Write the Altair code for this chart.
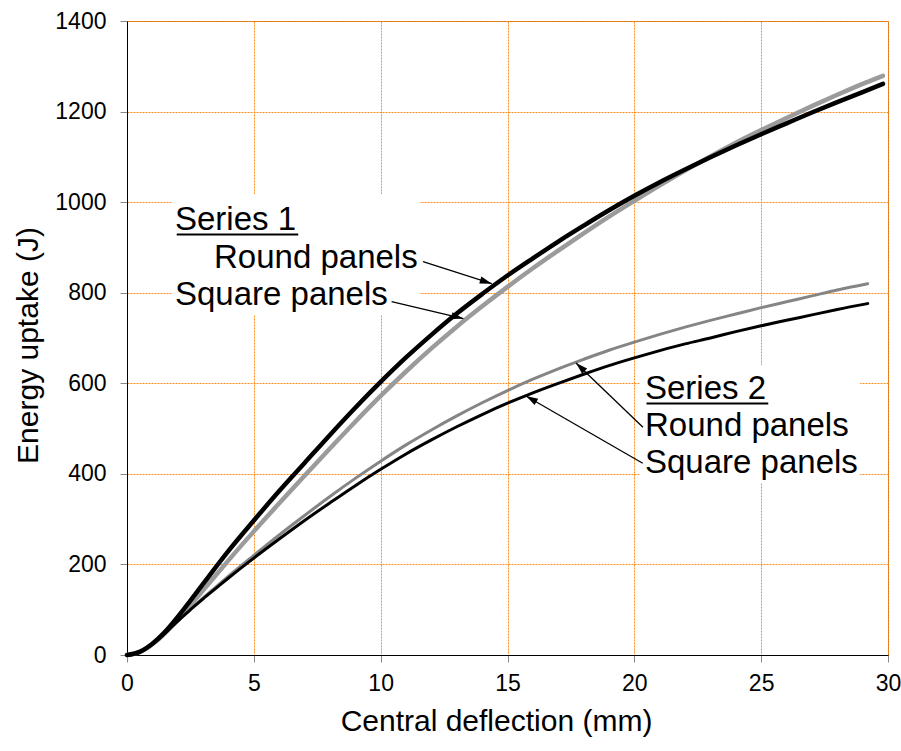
import math
import altair as alt
import pandas as pd

# ---------------- data ----------------
x_ticks = [0, 5, 10, 15, 20, 25, 30]
y_ticks = [0, 200, 400, 600, 800, 1000, 1200, 1400]

x_s1 = [0, 0.5, 1, 1.5, 2, 2.5, 3, 3.5, 4, 5, 6, 7, 8, 9, 10, 11, 12, 13, 14, 15,
        16, 17, 18, 19, 20, 21, 22, 23, 24, 25, 26, 27, 28, 29, 29.8]
e_s1_round = [0, 7, 25, 51, 84, 120, 157, 194, 230, 297, 362, 424, 486, 546, 603, 657, 707, 754, 797, 838,
              876, 913, 948, 982, 1014, 1044, 1072, 1099, 1125, 1150, 1174, 1198, 1221, 1243, 1261]
e_s1_square = [0, 7, 24, 48, 78, 110, 143, 176, 209, 273, 335, 396, 456, 515, 572, 626, 677, 725, 770, 813,
               854, 893, 931, 968, 1003, 1037, 1070, 1101, 1131, 1159, 1186, 1212, 1237, 1261, 1279]

x_s2 = [0, 0.5, 1, 1.5, 2, 2.5, 3, 3.5, 4, 5, 6, 7, 8, 9, 10, 11, 12, 13, 14, 15,
        16, 17, 18, 19, 20, 21, 22, 23, 24, 25, 26, 27, 28, 29.2]
e_s2_round = [0, 7, 24, 48, 75, 101, 126, 150, 174, 220, 265, 308, 350, 390, 428, 464, 497, 528, 557, 584,
              609, 632, 653, 673, 691, 708, 724, 739, 753, 767, 780, 793, 806, 820]
e_s2_square = [0, 7, 24, 48, 75, 100, 124, 147, 170, 214, 256, 297, 336, 374, 410, 444, 475, 504, 531, 556,
               579, 600, 620, 639, 656, 672, 687, 700, 714, 727, 739, 751, 763, 776]

label_text = ["Series 1", "Round panels", "Square panels", "Series 2", "Round panels", "Square panels"]
label_x = [1.89, 3.43, 1.89, 20.42, 20.42, 20.42]
label_e = [938.5, 854, 773, 565, 482.5, 402]

underline_x = [1.96, 20.48]
underline_x2 = [6.75, 25.28]
underline_e = [928.6, 555.4]

arrow_x0 = [11.67, 10.43, 20.34, 20.33]
arrow_e0 = [868.5, 780.2, 503, 423.3]
arrow_x1 = [14.38, 13.26, 17.7, 15.73]
arrow_e1 = [820, 743, 645, 572]

box_x = [1.77, 20.22]
box_x2 = [11.55, 28.9]
box_e = [750.8, 379.8]
box_e2 = [1018, 640]

# ---------------- layout ----------------
W, H = 761, 634
FONT = "Liberation Sans, Arial, sans-serif"

xs = alt.Scale(domain=[0, 30], nice=False, zero=False)
ys = alt.Scale(domain=[0, 1400], nice=False, zero=False)

xaxis = alt.Axis(values=x_ticks, title="Central deflection (mm)", labelFontSize=23, format="d",
                 titleFontSize=30, labelPadding=10, labelFlush=False, labelOverlap=False,
                 titleX=369, titleY=75, titleBaseline="alphabetic", titleAlign="center")
yaxis = alt.Axis(values=y_ticks, title="Energy uptake (J)", labelFontSize=23, format="d",
                 titleFontSize=30, labelPadding=14, labelFlush=False, labelOverlap=False,
                 titleX=-90, titleY=324, titleAngle=270, titleBaseline="alphabetic",
                 titleAlign="center")


def X(field="x"):
    return alt.X(f"{field}:Q", scale=xs, axis=xaxis)


def Y(field="E"):
    return alt.Y(f"{field}:Q", scale=ys, axis=yaxis)


boxes = alt.Chart(pd.DataFrame({"x": box_x, "x2": box_x2, "E": box_e, "E2": box_e2})).mark_rect(
    fill="white", strokeWidth=0).encode(x=X(), x2="x2:Q", y=Y(), y2="E2:Q")


def line(xv, ev, color, width):
    df = pd.DataFrame({"x": xv, "E": ev})
    return alt.Chart(df).mark_line(color=color, strokeWidth=width, strokeCap="round",
                                   strokeJoin="round", interpolate="monotone").encode(x=X(), y=Y())


l_s1s = line(x_s1, e_s1_square, "#9b9b9b", 4.5)
l_s2r = line(x_s2, e_s2_round, "#858585", 3)
l_s1r = line(x_s1, e_s1_round, "#000000", 4.5)
l_s2s = line(x_s2, e_s2_square, "#000000", 3)

px_x = W / 30.0
px_e = H / 1400.0
angles = []
for a, b, c, d in zip(arrow_x0, arrow_e0, arrow_x1, arrow_e1):
    dx = (c - a) * px_x
    dy = -(d - b) * px_e
    angles.append(math.degrees(math.atan2(dy, dx)) % 360)

arr_df = pd.DataFrame({"x": arrow_x0, "E": arrow_e0, "x2": arrow_x1, "E2": arrow_e1, "ang": angles})
arrow_lines = alt.Chart(arr_df).mark_rule(color="black", strokeWidth=1.3).encode(
    x=X(), x2="x2:Q", y=Y(), y2="E2:Q")
arrow_heads = alt.Chart(arr_df).mark_point(
    shape="M0,0L-1,-0.3L-1,0.3Z", filled=True, size=576, color="black", strokeWidth=0, opacity=1
).encode(x=X("x2"), y=Y("E2"), angle=alt.Angle("ang:Q", scale=None))

underlines = alt.Chart(pd.DataFrame({"x": underline_x, "x2": underline_x2, "E": underline_e})).mark_rule(
    color="black", strokeWidth=2).encode(x=X(), x2="x2:Q", y=Y())

labels = alt.Chart(pd.DataFrame({"x": label_x, "E": label_e, "t": label_text})).mark_text(
    align="left", baseline="alphabetic", font=FONT, fontSize=33, color="black").encode(
    x=X(), y=Y(), text="t:N")

chart = alt.layer(boxes, l_s1s, l_s2r, l_s1r, l_s2s, arrow_lines, arrow_heads, underlines, labels).properties(
    width=W, height=H,
    autosize=alt.AutoSizeParams(type="none"),
    padding={"left": 127, "top": 21, "right": 13, "bottom": 96},
    background="white",
).configure_view(stroke="#B4641E", strokeWidth=1).configure_axis(
    labelFont=FONT, titleFont=FONT, titleFontWeight="normal", labelColor="black", titleColor="black",
    gridColor="#FF8C1A", gridDash=[2, 1], gridWidth=1, domainColor="black", domainWidth=1,
    tickColor="#888888", tickSize=7, tickWidth=1)

chart.save("out.html", embed_options={"renderer": "svg", "actions": False})
